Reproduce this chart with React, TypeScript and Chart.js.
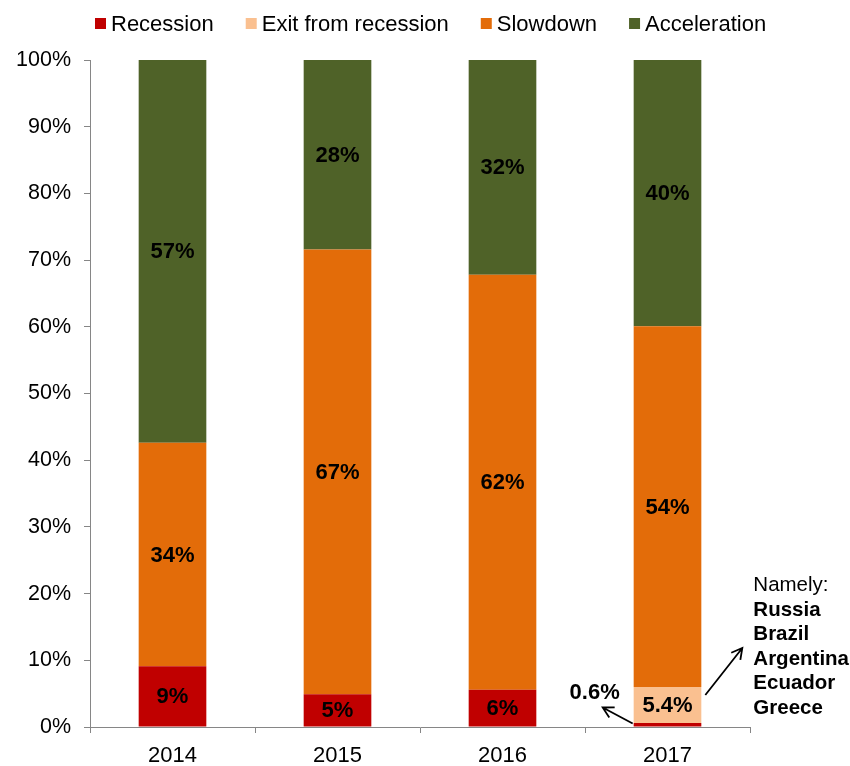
import React, { useEffect, useRef } from "react";
import { Chart, registerables } from "chart.js";

Chart.register(...registerables);

const years = ["2014", "2015", "2016", "2017"];
const seriesNames = ["Recession", "Exit from recession", "Slowdown", "Acceleration"];
const recession = [9.1, 4.9, 5.6, 0.6];
const exitFromRecession = [0, 0, 0, 5.4];
const slowdown = [33.5, 66.7, 62.2, 54.1];
const acceleration = [57.4, 28.4, 32.2, 39.9];
const seriesColors = ["#C00000", "#FAC090", "#E36C09", "#4F6228"];
const labelDecimals = [0, 1, 0, 0];
const yTickValues = [0, 10, 20, 30, 40, 50, 60, 70, 80, 90, 100];
const namelyTitle = "Namely:";
const namelyCountries = ["Russia", "Brazil", "Argentina", "Ecuador", "Greece"];

const FONT = "'Liberation Sans', Arial, Helvetica, sans-serif";

function fmt(v: number, di: number) {
  const d = v < 1 ? 1 : labelDecimals[di];
  return v.toFixed(d) + "%";
}

function arrow(ctx: CanvasRenderingContext2D, x1: number, y1: number, x2: number, y2: number) {
  const ang = Math.atan2(y2 - y1, x2 - x1);
  const h = 12;
  ctx.beginPath();
  ctx.moveTo(x1, y1);
  ctx.lineTo(x2, y2);
  ctx.moveTo(x2 - h * Math.cos(ang - 0.5), y2 - h * Math.sin(ang - 0.5));
  ctx.lineTo(x2, y2);
  ctx.lineTo(x2 - h * Math.cos(ang + 0.5), y2 - h * Math.sin(ang + 0.5));
  ctx.stroke();
}

const customLegend = {
  id: "customLegend",
  afterDraw(chart: any) {
    const ctx = chart.ctx as CanvasRenderingContext2D;
    ctx.save();
    ctx.font = `22px ${FONT}`;
    ctx.textBaseline = "alphabetic";
    ctx.textAlign = "left";
    let x = 95;
    chart.data.datasets.forEach((ds: any) => {
      ctx.fillStyle = ds.backgroundColor;
      ctx.fillRect(x, 18, 11, 11);
      ctx.fillStyle = "#000";
      ctx.fillText(ds.label, x + 16, 31);
      x += 16 + ctx.measureText(ds.label).width + 32;
    });
    ctx.restore();
  },
};

const barLabels = {
  id: "barLabels",
  afterDatasetsDraw(chart: any) {
    const ctx = chart.ctx as CanvasRenderingContext2D;
    ctx.save();
    ctx.fillStyle = "#000";
    ctx.strokeStyle = "#000";
    ctx.lineWidth = 1.8;
    ctx.textAlign = "center";
    ctx.textBaseline = "middle";
    chart.data.datasets.forEach((ds: any, di: number) => {
      const meta = chart.getDatasetMeta(di);
      meta.data.forEach((el: any, i: number) => {
        const v = ds.data[i];
        if (!v) return;
        const p = el.getProps(["x", "y", "base", "width"], true);
        const left = p.x - p.width / 2;
        const right = p.x + p.width / 2;
        const mid = (p.y + p.base) / 2;
        ctx.font = `bold 22px ${FONT}`;
        if (v < 1) {
          arrow(ctx, left - 1, p.base - 3, left - 31, p.base - 19);
          ctx.fillText(fmt(v, di), left - 39, p.base - 34);
          return;
        }
        ctx.fillText(fmt(v, di), p.x, mid + 1);
        if (di === 1) {
          arrow(ctx, right + 4, mid - 10, right + 41, mid - 57);
          ctx.textAlign = "left";
          ctx.font = `20.5px ${FONT}`;
          ctx.fillText(namelyTitle, right + 52, mid - 120);
          ctx.font = `bold 20.5px ${FONT}`;
          namelyCountries.forEach((c, k) => {
            ctx.fillText(c, right + 52, mid - 95 + k * 24.6);
          });
          ctx.textAlign = "center";
        }
      });
    });
    ctx.restore();
  },
};

export default function App() {
  const ref = useRef<HTMLCanvasElement | null>(null);
  useEffect(() => {
    if (!ref.current) return;
    Chart.defaults.font.family = FONT;
    const seriesData = [recession, exitFromRecession, slowdown, acceleration];
    const chart = new Chart(ref.current, {
      type: "bar",
      data: {
        labels: years,
        datasets: seriesNames.map((name, i) => ({
          label: name,
          data: seriesData[i],
          backgroundColor: seriesColors[i],
          borderWidth: 0,
          barPercentage: 0.41,
          categoryPercentage: 1,
        })),
      },
      options: {
        animation: false,
        responsive: false,
        devicePixelRatio: 1,
        layout: { padding: { top: 60, right: 100, left: 0, bottom: 0 } },
        plugins: {
          legend: { display: false },
          tooltip: { enabled: false },
        },
        scales: {
          x: {
            stacked: true,
            afterFit: (s: any) => {
              s.height = 39;
            },
            grid: {
              display: true,
              drawOnChartArea: false,
              drawTicks: true,
              tickLength: 6,
              color: "#868686",
              offset: true,
            },
            border: { display: true, color: "#868686", width: 1 },
            ticks: { color: "#000", font: { size: 22 }, padding: 10 },
          },
          y: {
            stacked: true,
            min: 0,
            max: 100,
            afterFit: (s: any) => {
              s.width = 90;
            },
            afterBuildTicks: (s: any) => {
              s.ticks = yTickValues.map((v) => ({ value: v }));
            },
            grid: {
              display: true,
              drawOnChartArea: false,
              drawTicks: true,
              tickLength: 6,
              color: "#868686",
            },
            border: { display: true, color: "#868686", width: 1 },
            ticks: {
              color: "#000",
              font: { size: 21.5 },
              padding: 13,
              callback: (v: any) => v + "%",
            },
          },
        },
      },
      plugins: [barLabels, customLegend],
    });
    return () => chart.destroy();
  }, []);
  return (
    <div style={{ position: "absolute", left: 0, top: 0, width: 850, height: 766, background: "#fff" }}>
      <canvas ref={ref} width={850} height={766} style={{ width: 850, height: 766 }} />
    </div>
  );
}
